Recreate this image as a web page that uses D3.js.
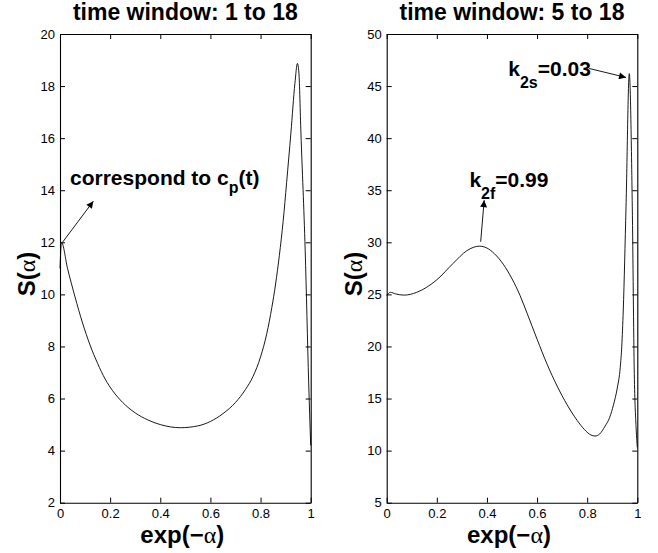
<!DOCTYPE html>
<html>
<head>
<meta charset="utf-8">
<script src="https://cdn.jsdelivr.net/npm/d3@7"></script>
<style>
  body { margin: 0; background: #fff; }
  svg { display: block; }
  text { font-family: "Liberation Sans", Arial, Helvetica, sans-serif; fill: #000; }
</style>
</head>
<body>
<div id="chart"></div>
<script>
'use strict'

// ---- data ----
const xTicks = [0, 0.2, 0.4, 0.6, 0.8, 1]
const leftYTicks = [2, 4, 6, 8, 10, 12, 14, 16, 18, 20]
const rightYTicks = [5, 10, 15, 20, 25, 30, 35, 40, 45, 50]
const titles = ['time window: 1 to 18', 'time window: 5 to 18']

// S(alpha) vs exp(-alpha), window 1..18
const leftX = [0, 0.006, 0.03, 0.06, 0.09, 0.12, 0.15, 0.18, 0.21, 0.25, 0.30, 0.35, 0.40, 0.48, 0.55, 0.60, 0.65, 0.70, 0.74, 0.77, 0.80, 0.825, 0.845, 0.86, 0.875, 0.89, 0.904, 0.921, 0.937, 0.947, 0.953, 0.961, 0.978, 0.992, 1.0]
const leftS = [11.0, 12.0, 11.0, 9.9, 8.9, 8.05, 7.35, 6.75, 6.3, 5.85, 5.45, 5.18, 5.0, 4.88, 4.95, 5.12, 5.42, 5.85, 6.35, 6.85, 7.6, 8.5, 9.5, 10.4, 11.5, 12.8, 14.3, 16.2, 18.1, 18.87, 18.5, 16.2, 11.7, 6.6, 4.2]

// window 5..18
const rightX = [0, 0.015, 0.035, 0.07, 0.12, 0.2, 0.266, 0.32, 0.37, 0.40, 0.43, 0.465, 0.50, 0.532, 0.56, 0.60, 0.64, 0.68, 0.72, 0.76, 0.79, 0.815, 0.831, 0.85, 0.87, 0.89, 0.905, 0.92, 0.932, 0.938, 0.944, 0.955, 0.968, 0.980, 0.988, 0.995, 1.0]
const rightS = [24.9, 25.2, 25.05, 24.93, 25.2, 26.4, 28.0, 29.2, 29.63, 29.45, 28.9, 27.9, 26.5, 24.9, 23.2, 20.7, 18.3, 16.2, 14.4, 12.9, 12.0, 11.5, 11.4, 11.6, 12.3, 13.2, 14.4, 16.0, 18.0, 20.0, 23.5, 33.4, 46.2, 33.4, 17.4, 12.3, 10.3]

// annotations: text anchor point, arrow start, arrow tip (data units)
const leftNotes = [
    { main: 'correspond to c', sub: 'p', tail: '(t)', subDy: 8, tx: 0.04, ty: 14.19, x1: 0.01, y1: 12.0, x2: 0.133, y2: 13.58 }
]
const rightNotes = [
    { main: 'k', sub: '2s', tail: '=0.03', subDy: 12, tx: 0.485, ty: 45.95, x1: 0.808, y1: 46.69, x2: 0.955, y2: 45.83 },
    { main: 'k', sub: '2f', tail: '=0.99', subDy: 12, tx: 0.33, ty: 35.33, x1: 0.375, y1: 30.05, x2: 0.389, y2: 34.05 }
]

////////////////////////////////////
//////////// svg setup /////////////
////////////////////////////////////
const svgWidth = 658, svgHeight = 553

const svg = d3.select('#chart')
    .append('svg')
    .attr('width', svgWidth)
    .attr('height', svgHeight)

svg.append('rect').attr('width', svgWidth).attr('height', svgHeight).attr('fill', '#fff')

svg.append('defs').append('marker')
    .attr('id', 'head')
    .attr('viewBox', '0 0 10 10')
    .attr('refX', 10).attr('refY', 5)
    .attr('markerWidth', 9).attr('markerHeight', 7)
    .attr('markerUnits', 'userSpaceOnUse')
    .attr('orient', 'auto')
    .append('path')
    .attr('d', 'M0,0 L10,5 L0,10 Z')
    .attr('fill', '#000')

const plotTop = 34, plotBottom = 502.7

function panel(left, right, yDomain, yTicks, xs, ys, title, notes) {
    const x = d3.scaleLinear().domain([0, 1]).range([left, right])
    const y = d3.scaleLinear().domain(yDomain).range([plotBottom, plotTop])
    const g = svg.append('g')

    // axes, ticks pointing inward on all sides
    g.append('g')
        .attr('transform', `translate(0,${plotBottom})`)
        .call(d3.axisBottom(x).tickValues(xTicks).tickSizeInner(-5).tickSizeOuter(0).tickPadding(6)
            .tickFormat(d => d3.format('')(d)))
    g.append('g')
        .attr('transform', `translate(0,${plotTop})`)
        .call(d3.axisTop(x).tickValues(xTicks).tickSizeInner(-5).tickSizeOuter(0).tickFormat(''))
    g.append('g')
        .attr('transform', `translate(${left},0)`)
        .call(d3.axisLeft(y).tickValues(yTicks).tickSizeInner(-5).tickSizeOuter(0).tickPadding(5))
    g.append('g')
        .attr('transform', `translate(${right},0)`)
        .call(d3.axisRight(y).tickValues(yTicks).tickSizeInner(-5).tickSizeOuter(0).tickFormat(''))

    g.selectAll('.domain').attr('stroke', '#000').attr('stroke-width', 1.1)
    g.selectAll('.tick line').attr('stroke', '#000')
    g.selectAll('.tick text').attr('font-size', 13).attr('font-family', '"Liberation Sans", Arial, sans-serif')

    // curve
    const line = d3.line()
        .x((d, i) => x(xs[i]))
        .y(d => y(d))
        .curve(d3.curveMonotoneX)
    g.append('path')
        .datum(ys)
        .attr('d', line)
        .attr('fill', 'none')
        .attr('stroke', '#000')
        .attr('stroke-width', 0.9)

    // title
    const cx = (left + right) / 2
    g.append('text')
        .attr('x', cx).attr('y', 20)
        .attr('text-anchor', 'middle')
        .attr('font-size', 23).attr('font-weight', 'bold')
        .text(title)

    // x label
    const xl = g.append('text')
        .attr('x', cx - 3).attr('y', 543)
        .attr('text-anchor', 'middle')
        .attr('font-size', 24).attr('font-weight', 'bold')
    xl.append('tspan').text('exp(\u2212')
    xl.append('tspan').attr('font-weight', 'normal').attr('font-family', '"Liberation Serif", serif').text('\u03b1')
    xl.append('tspan').text(')')

    // y label
    const yl = g.append('text')
        .attr('transform', `translate(${left - 25},274) rotate(-90)`)
        .attr('text-anchor', 'middle')
        .attr('font-size', 24).attr('font-weight', 'bold')
    yl.append('tspan').text('S(')
    yl.append('tspan').attr('font-weight', 'normal').attr('font-family', '"Liberation Serif", serif').text('\u03b1')
    yl.append('tspan').text(')')

    // annotations
    notes.forEach(n => {
        g.append('line')
            .attr('x1', x(n.x1)).attr('y1', y(n.y1))
            .attr('x2', x(n.x2)).attr('y2', y(n.y2))
            .attr('stroke', '#000').attr('stroke-width', 0.9)
            .attr('marker-end', 'url(#head)')
        const t = g.append('text')
            .attr('x', x(n.tx)).attr('y', y(n.ty))
            .attr('font-size', 21).attr('font-weight', 'bold')
        t.append('tspan').text(n.main)
        t.append('tspan').attr('font-size', 16).attr('dy', n.subDy).text(n.sub)
        t.append('tspan').attr('dy', -n.subDy).text(n.tail)
    })
}

panel(60, 310.7, [2, 20], leftYTicks, leftX, leftS, titles[0], leftNotes)
panel(386.7, 637.3, [5, 50], rightYTicks, rightX, rightS, titles[1], rightNotes)
</script>
</body>
</html>
